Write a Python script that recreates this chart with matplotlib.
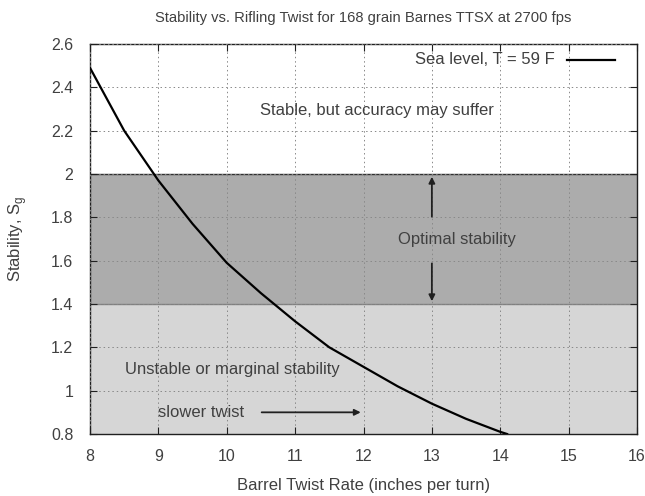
import matplotlib
matplotlib.use("Agg")
import matplotlib.pyplot as plt

plt.rcParams['font.family'] = ['Liberation Sans', 'DejaVu Sans']

twist = [8.0, 8.5, 9.0, 9.5, 10.0, 10.5, 11.0, 11.5, 12.0, 12.5, 13.0, 13.5, 14.0, 14.1]
stability = [2.49, 2.20, 1.97, 1.77, 1.59, 1.45, 1.32, 1.20, 1.11, 1.02, 0.94, 0.87, 0.81, 0.80]
x_ticks = [8, 9, 10, 11, 12, 13, 14, 15, 16]
y_ticks = [0.8, 1.0, 1.2, 1.4, 1.6, 1.8, 2.0, 2.2, 2.4, 2.6]
y_tick_labels = ["0.8", "1", "1.2", "1.4", "1.6", "1.8", "2", "2.2", "2.4", "2.6"]
optimal_band = [1.4, 2.0]
marginal_band = [0.8, 1.4]

txt = '#404040'
fs = 12
fig = plt.figure(figsize=(6.45, 4.96), dpi=100)
ax = fig.add_axes([90/645, 62/496, 547/645, 390/496])

ax.axhspan(marginal_band[0], marginal_band[1], color='#d6d6d6', zorder=0.5, lw=0)
ax.axhspan(optimal_band[0], optimal_band[1], color='#acacac', zorder=0.6, lw=0)
ax.axhline(optimal_band[1], color='#303030', lw=1.0, zorder=1)
ax.axhline(optimal_band[0], color='#808080', lw=1.0, zorder=1)

ax.plot(twist, stability, color='black', lw=1.6, zorder=4)

ax.set_xlim(8, 16)
ax.set_ylim(0.8, 2.6)
ax.set_xticks(x_ticks)
ax.set_xticklabels([str(t) for t in x_ticks])
ax.set_yticks(y_ticks)
ax.set_yticklabels(y_tick_labels)
ax.set_axisbelow(False)
ax.grid(True, color='#888888', linestyle=(0, (1.5, 3)), lw=0.7, zorder=2)
ax.tick_params(direction='in', top=True, right=True, length=5, labelsize=11.5,
               labelcolor=txt, color='#202020')
ax.tick_params(axis='y', pad=12)
ax.tick_params(axis='x', pad=11)
for s in ax.spines.values():
    s.set_color('#202020')
    s.set_linewidth(1.0)

ax.set_title('Stability vs. Rifling Twist for 168 grain Barnes TTSX at 2700 fps',
             fontsize=10.6, color=txt, pad=16)
ax.set_xlabel('Barrel Twist Rate (inches per turn)', fontsize=fs, color=txt, labelpad=10)
ax.set_ylabel('Stability, S$_\\mathregular{g}$', fontsize=fs, color=txt, labelpad=16)

ax.text(12.2, 2.295, 'Stable, but accuracy may suffer', ha='center', va='center',
        fontsize=fs, color=txt, zorder=5)
ax.text(13.37, 1.696, 'Optimal stability', ha='center', va='center',
        fontsize=fs, color=txt, zorder=5)
ax.text(10.08, 1.096, 'Unstable or marginal stability', ha='center', va='center',
        fontsize=fs, color=txt, zorder=5)
ax.text(9.0, 0.9, 'slower twist', ha='left', va='center', fontsize=fs, color=txt, zorder=5)

arrow_kw = dict(arrowstyle='-|>', color='#202020', lw=1.3, mutation_scale=9)
ax.annotate('', xy=(12.0, 0.9), xytext=(10.47, 0.9), arrowprops=arrow_kw, zorder=5)
ax.annotate('', xy=(13.0, 2.0), xytext=(13.0, 1.79), arrowprops=arrow_kw, zorder=5)
ax.annotate('', xy=(13.0, 1.4), xytext=(13.0, 1.60), arrowprops=arrow_kw, zorder=5)

# key (gnuplot style: text then line sample)
ax.text(0.850, 0.959, 'Sea level, T = 59 F', transform=ax.transAxes, ha='right',
        va='center', fontsize=fs, color=txt, zorder=5)
ax.plot([0.872, 0.960], [0.959, 0.959], transform=ax.transAxes, color='black',
        lw=1.6, zorder=5, clip_on=False)

fig.savefig('out.png', dpi=100)
